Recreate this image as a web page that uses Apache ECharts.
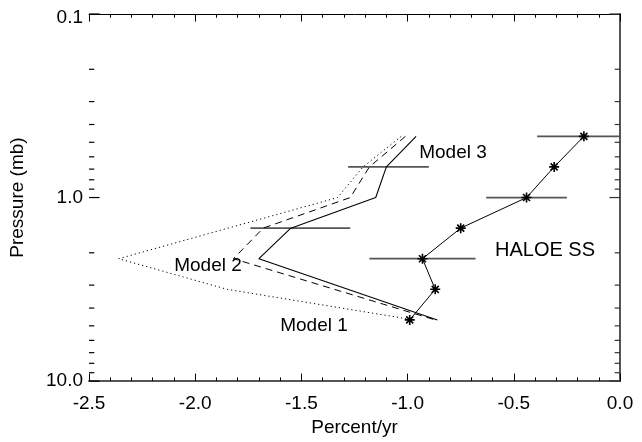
<!DOCTYPE html>
<html>
<head>
<meta charset="utf-8">
<script src="https://cdn.jsdelivr.net/npm/echarts@6/dist/echarts.min.js"></script>
<style>html,body{margin:0;padding:0;background:#fff;overflow:hidden}#c{width:642px;height:442px}</style>
</head>
<body>
<div id="c"></div>
<script>
// Pressure levels (mb)
const levels = [0.464, 0.681, 1.0, 1.468, 2.154, 3.162, 4.642];
// HALOE SS trend (percent/yr) at each level
const haloeX = [-0.17, -0.31, -0.44, -0.75, -0.93, -0.87, -0.99];
// HALOE error bars
const haloeErrP = [0.464, 1.0, 2.154];
const haloeErrLow = [-0.39, -0.63, -1.18];
const haloeErrHigh = [0.0, -0.25, -0.68];
// Model 3 (solid)
const model3P = [0.464, 0.681, 1.0, 1.468, 2.154, 4.642];
const model3X = [-0.96, -1.10, -1.15, -1.55, -1.70, -0.86];
// Model 2 (dashed)
const model2P = [0.464, 0.681, 1.0, 1.468, 2.154, 4.642];
const model2X = [-1.01, -1.18, -1.27, -1.68, -1.82, -0.87];
// Model 1 (dotted)
const model1P = [0.464, 0.681, 1.0, 2.154, 3.162, 4.642];
const model1X = [-1.03, -1.21, -1.33, -2.36, -1.85, -0.97];
// Model error bars
const modelErrP = [0.681, 1.468];
const modelErrLow = [-1.28, -1.74];
const modelErrHigh = [-0.90, -1.27];
// Axis ticks
const xTicks = [-2.5, -2.0, -1.5, -1.0, -0.5, 0.0];
const yMajorTicks = [0.1, 1, 10];
const yMinorTicks = [0.2, 0.3, 0.4, 0.5, 0.6, 0.7, 0.8, 0.9, 2, 3, 4, 5, 6, 7, 8, 9];

const FONT = 'Liberation Sans';
const pairs = (xs, ps) => xs.map((x, i) => [x, ps[i]]);

const series = [];
series.push({
  type: 'line', data: pairs(model1X, model1P), symbol: 'none',
  lineStyle: {color: '#000', width: 1, type: [1.2, 3]}, z: 3
});
series.push({
  type: 'line', data: pairs(model2X, model2P), symbol: 'none',
  lineStyle: {color: '#000', width: 1, type: [7, 5]}, z: 3
});
series.push({
  type: 'line', data: pairs(model3X, model3P), symbol: 'none',
  lineStyle: {color: '#000', width: 1.1}, z: 3
});
series.push({
  type: 'line', data: pairs(haloeX, levels),
  symbol: 'path://M5,0L5,10M0,5L10,5M1.5,1.5L8.5,8.5M1.5,8.5L8.5,1.5',
  symbolSize: 10,
  itemStyle: {color: '#000', borderColor: '#000', borderWidth: 1.6},
  lineStyle: {color: '#000', width: 1}, z: 4
});
haloeErrP.forEach((p, i) => {
  series.push({
    type: 'line', data: [[haloeErrLow[i], p], [haloeErrHigh[i], p]], symbol: 'none',
    lineStyle: {color: '#555', width: 1.8}, z: 2
  });
});
modelErrP.forEach((p, i) => {
  series.push({
    type: 'line', data: [[modelErrLow[i], p], [modelErrHigh[i], p]], symbol: 'none',
    lineStyle: {color: '#555', width: 1.8}, z: 2
  });
});
// log-axis ticks on both frame sides, pointing inward
function tickSeries(values, len, xEdge, dir, color) {
  return {
    type: 'custom',
    data: values.map(p => [xEdge, p]),
    encode: {x: 0, y: 1},
    silent: true,
    clip: false,
    z: 5,
    renderItem: function (params, api) {
      const l = api.coord([api.value(0), api.value(1)]);
      return {type: 'line', shape: {x1: l[0], y1: l[1], x2: l[0] + dir * len, y2: l[1]}, style: {stroke: color, lineWidth: 1.2}};
    }
  };
}
series.push(tickSeries(yMinorTicks, 5.3, -2.5, 1, '#000'));
series.push(tickSeries(yMajorTicks, 10.6, -2.5, 1, '#000'));
series.push(tickSeries(yMinorTicks, 5.3, 0, -1, '#333'));
series.push(tickSeries(yMajorTicks, 10.6, 0, -1, '#333'));

const xCommon = {
  type: 'value', min: xTicks[0], max: xTicks[xTicks.length - 1], interval: 0.5,
  splitLine: {show: false},
  minorTick: {show: true, splitNumber: 5, length: 3.75, lineStyle: {color: '#000'}},
  axisTick: {show: true, inside: true, length: 7.5, lineStyle: {color: '#000'}}
};
const yCommon = {
  type: 'log', logBase: 10, min: 0.1, max: 10, inverse: true,
  splitLine: {show: false},
  axisTick: {show: false},
  minorTick: {show: false}
};

const option = {
  animation: false,
  backgroundColor: '#fff',
  grid: {left: 89, right: 22, top: 14, bottom: 53},
  xAxis: [
    Object.assign({}, xCommon, {
      position: 'bottom',
      axisLine: {show: true, lineStyle: {color: '#555', width: 2}},
      axisLabel: {show: true, color: '#000', fontFamily: FONT, fontSize: 19, margin: 13,
        formatter: v => v.toFixed(1)},
      name: 'Percent/yr', nameLocation: 'middle', nameGap: 35,
      nameTextStyle: {color: '#000', fontFamily: FONT, fontSize: 19}
    }),
    Object.assign({}, xCommon, {
      position: 'top',
      axisLine: {show: true, lineStyle: {color: '#000', width: 1}},
      axisLabel: {show: false}
    })
  ],
  yAxis: [
    Object.assign({}, yCommon, {
      position: 'left',
      axisLine: {show: true, lineStyle: {color: '#000', width: 1}},
      axisLabel: {
        show: true, color: '#000', fontFamily: FONT, fontSize: 19, margin: 6,
        formatter: function (v) {
          const s = Number(v).toFixed(1);
          if (v < 0.5) return '{t|' + s + '}';
          if (v > 5) return '{b|' + s + '}';
          return s;
        },
        rich: {
          t: {fontFamily: FONT, fontSize: 19, color: '#000', padding: [8, 0, 0, 0]},
          b: {fontFamily: FONT, fontSize: 19, color: '#000', padding: [0, 0, 0, 0]}
        }
      },
      name: 'Pressure (mb)', nameLocation: 'middle', nameGap: 62,
      nameTextStyle: {color: '#000', fontFamily: FONT, fontSize: 19}
    }),
    Object.assign({}, yCommon, {
      position: 'right',
      axisLine: {show: true, lineStyle: {color: '#555', width: 2}},
      axisLabel: {show: false}
    })
  ],
  graphic: [
    {type: 'text', x: 453, y: 153, style: {text: 'Model 3', font: '19px "Liberation Sans"', fill: '#000', align: 'center', verticalAlign: 'middle'}, z: 10},
    {type: 'text', x: 208, y: 266, style: {text: 'Model 2', font: '19px "Liberation Sans"', fill: '#000', align: 'center', verticalAlign: 'middle'}, z: 10},
    {type: 'text', x: 314, y: 326, style: {text: 'Model 1', font: '19px "Liberation Sans"', fill: '#000', align: 'center', verticalAlign: 'middle'}, z: 10},
    {type: 'text', x: 545, y: 250, style: {text: 'HALOE SS', font: '20px "Liberation Sans"', fill: '#000', align: 'center', verticalAlign: 'middle'}, z: 10}
  ],
  series: series
};

const chart = echarts.init(document.getElementById('c'), null, {renderer: 'canvas'});
chart.setOption(option);
</script>
</body>
</html>
